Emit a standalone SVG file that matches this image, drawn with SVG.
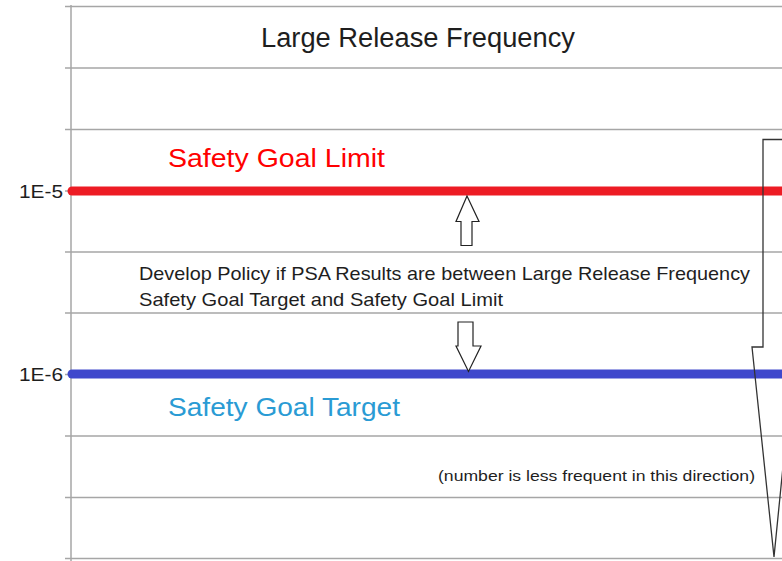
<svg xmlns="http://www.w3.org/2000/svg" width="782" height="561" viewBox="0 0 782 561">
<style>
.grid{stroke:#a6a6a6;stroke-width:1.5;fill:none}
.lbl{font-family:"Liberation Sans",Arial,sans-serif;fill:#1e1e1e}
.arrow{fill:#fff;stroke:#222;stroke-width:1.2}
</style>
<rect width="782" height="561" fill="#fff"/>
<g id="grid">
<line class="grid" x1="71" y1="5" x2="71" y2="561"/>
<line class="grid" x1="65" y1="6.5" x2="782" y2="6.5"/>
<line class="grid" x1="65" y1="68" x2="782" y2="68"/>
<line class="grid" x1="65" y1="129.5" x2="782" y2="129.5"/>
<line class="grid" x1="65" y1="191" x2="782" y2="191"/>
<line class="grid" x1="65" y1="252" x2="782" y2="252"/>
<line class="grid" x1="65" y1="313" x2="782" y2="313"/>
<line class="grid" x1="65" y1="374.5" x2="782" y2="374.5"/>
<line class="grid" x1="65" y1="436" x2="782" y2="436"/>
<line class="grid" x1="65" y1="497.5" x2="782" y2="497.5"/>
<line class="grid" x1="65" y1="558.5" x2="782" y2="558.5"/>
</g>
<g id="title"><text class="lbl" x="261" y="47" font-size="27" textLength="314" lengthAdjust="spacingAndGlyphs">Large Release Frequency</text></g>
<g id="limit">
<line x1="72" y1="191" x2="790" y2="191" stroke="#ed1c24" stroke-width="9" stroke-linecap="round"/>
<text x="168" y="167" font-family="Liberation Sans,Arial,sans-serif" font-size="26" fill="#ff0000" textLength="217" lengthAdjust="spacingAndGlyphs">Safety Goal Limit</text>
<text class="lbl" x="19" y="198" font-size="18" textLength="44" lengthAdjust="spacingAndGlyphs">1E-5</text>
</g>
<g id="target">
<line x1="72" y1="374" x2="790" y2="374" stroke="#3f48cc" stroke-width="9" stroke-linecap="round"/>
<text x="168" y="416" font-family="Liberation Sans,Arial,sans-serif" font-size="26" fill="#2a9bd4" textLength="232" lengthAdjust="spacingAndGlyphs">Safety Goal Target</text>
<text class="lbl" x="19" y="381" font-size="18" textLength="44" lengthAdjust="spacingAndGlyphs">1E-6</text>
</g>
<g id="policy">
<text class="lbl" x="139" y="280" font-size="19" textLength="611" lengthAdjust="spacingAndGlyphs">Develop Policy if PSA Results are between Large Release Frequency</text>
<text class="lbl" x="139" y="306" font-size="19" textLength="364" lengthAdjust="spacingAndGlyphs">Safety Goal Target and Safety Goal Limit</text>
</g>
<g id="note"><text class="lbl" x="438" y="481" font-size="15" textLength="317" lengthAdjust="spacingAndGlyphs">(number is less frequent in this direction)</text></g>
<g id="connectors">
<polygon class="arrow" points="467,196 479,221.5 472,221.5 472,245.5 461,245.5 461,221.5 456,221.5"/>
<polygon class="arrow" points="458,322 473,322 473,346 481,346 468.5,371.5 456,346 458,346"/>
<path d="M790,139.5 L763,139.5 L763,347 L752,347 L774,557 L790,396" fill="none" stroke="#333" stroke-width="1.3"/>
</g>
</svg>
